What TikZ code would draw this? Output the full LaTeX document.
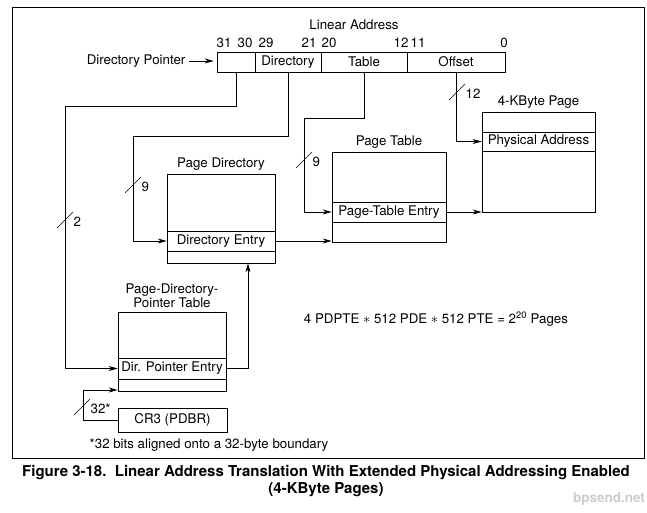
\documentclass[tikz,border=0pt]{standalone}
\usepackage{fontspec}
\setmainfont{TeX Gyre Heros}
\usepackage{tikz}
\usetikzlibrary{
  positioning,
  arrows.meta
}

\begin{document}
\begin{tikzpicture}[x=1pt,y=-1pt,line width=0.7pt,>={Stealth[length=9pt,width=5pt]},
  every node/.style={font=\fontsize{13.3}{14}\selectfont},
  fld/.style={draw,minimum height=20pt,inner sep=0pt},
  tbl/.style={draw,inner sep=0pt},
  ent/.style={draw,minimum height=20pt,inner sep=0pt},
  bus/.style={line width=0.6pt}]
  \useasboundingbox (0,0) rectangle (647,513);
  % 枠
  \draw[line width=0.9pt] (12,7) rectangle (644,458);

  % リニアアドレス
  \node (la) at (354,25) {Linear Address};
  \foreach \x/\b in {224/31,245/30,266/29,309/21,329/20,401/12,418/11,504/0}
    \node (bit\b) at (\x,43) {\b};
  \node[fld,minimum width=38pt] (dp) at (236,62) {};
  \node[fld,minimum width=66pt] (dir) at (288,62) {Directory};
  \node[fld,minimum width=86pt] (tab) at (364,62) {Table};
  \node[fld,minimum width=98pt] (off) at (456,62) {Offset};
  \node[anchor=east] (dpl) at (189,61) {Directory Pointer};
  \draw[->,shorten >=3pt] (dpl.east)--(dpl.east-|dp.west);

  % 各テーブル
  \node[tbl,minimum width=108pt,minimum height=89pt] (pd) at (221,218.5) {};
  \node[ent,minimum width=108pt] (pde) at (221,241) {Directory Entry};
  \node[above=0pt of pd] (pdt) {Page Directory};

  \node[tbl,minimum width=114pt,minimum height=90pt] (pt) at (389,197) {};
  \node[ent,minimum width=114pt] (pte) at (389,212) {Page-Table Entry};
  \node[above=0pt of pt] (ptt) {Page Table};

  \node[tbl,minimum width=113pt,minimum height=100pt] (pg) at (538.5,162) {};
  \node[ent,minimum width=113pt,minimum height=19pt] (pa) at (538.5,141.5) {Physical Address};
  \node[above=0pt of pg] (pgt) {4-KByte Page};

  \node[tbl,minimum width=108pt,minimum height=79pt] (pdpt) at (172,351.5) {};
  \node[ent,minimum width=108pt,minimum height=21pt] (pdpe) at (172,368.5) {Dir. Pointer Entry};
  \node[above=0pt of pdpt,align=center] (pdptt) {Page-Directory-\\Pointer Table};

  \node[tbl,minimum width=109pt,minimum height=24pt] (cr3) at (172.5,420) {CR3 (PDBR)};

  % 折れ点
  \coordinate (b1) at (65,106);
  \coordinate (b2) at (133,136);
  \coordinate (b3) at (304,118);
  \coordinate (b4) at (248,368);
  \coordinate (b5) at (83,390);

  % 矢印
  \draw[->] (dp.south) |- (b1) |- (pdpe.west);
  \draw[->] (dir.south) |- (b2) |- (pde.west);
  \draw[->] (tab.south) |- (b3) |- (pte.west);
  \draw[->] (off.south) |- (pa.west);
  \draw[->] (pde.east) -- (pde.east-|pt.west);
  \draw[->] (pte.east) -- (pte.east-|pg.west);
  \draw[->] (pdpe.east) -| (b4|-pd.south);
  \draw[->] (cr3.west) -| (b5) -- (b5-|pdpt.west);

  % ビット数
  \foreach \x/\y/\n [count=\i] in {65/220/2,133/185/9,304/160/9,457/92/12,82/407/32*}
    \draw[bus] (\x-8,\y+8)--(\x+8,\y-8) node[anchor=west,xshift=-3pt,yshift=-10pt] (w\i) {\n};

  % 注記
  \node (eq) at (436,319) {4 PDPTE $\ast$ 512 PDE $\ast$ 512 PTE = 2\textsuperscript{20} Pages};
  \node[anchor=west] (fn) at (86,445) {*32 bits aligned onto a 32-byte boundary};
  \node[font=\bfseries\fontsize{15}{17}\selectfont,align=center] (cap) at (326,481)
    {Figure 3-18.\ \ Linear Address Translation With Extended Physical Addressing Enabled\\(4-KByte Pages)};
  \node[font=\bfseries\fontsize{13.5}{14}\selectfont,text=gray!40] (wm) at (609,499) {bpsend.net};
\end{tikzpicture}
\end{document}
